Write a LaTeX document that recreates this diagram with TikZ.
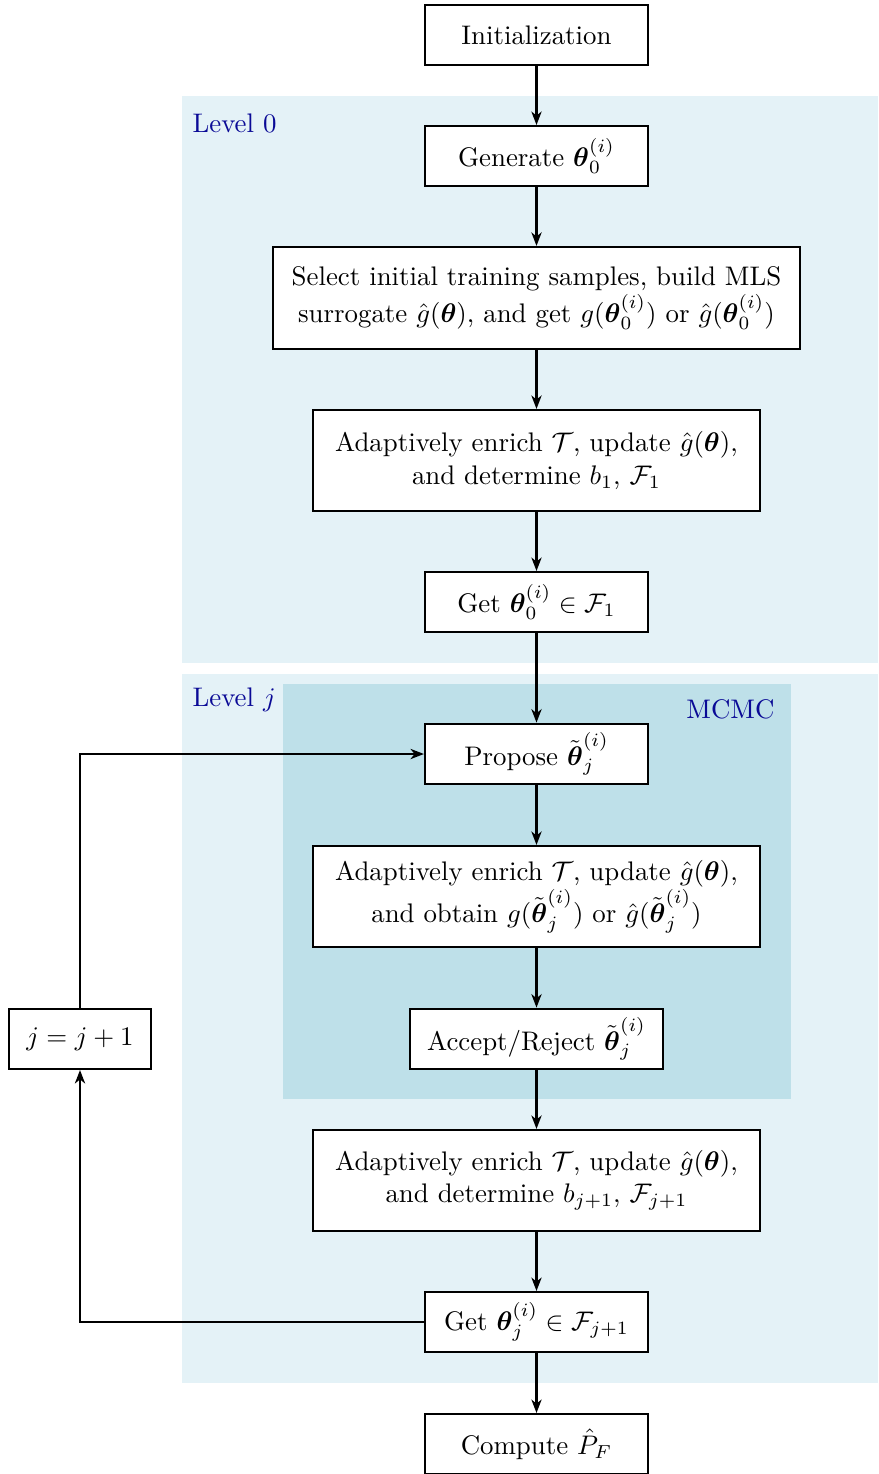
\documentclass[tikz,border=0pt]{standalone}
\usepackage{amsmath,amssymb}
\usetikzlibrary{arrows.meta}

\definecolor{levelbg}{RGB}{228,242,247}
\definecolor{mcmcbg}{RGB}{190,224,233}
\definecolor{levelfg}{RGB}{10,10,150}

\newcommand{\thetab}{\boldsymbol{\theta}}
\newcommand{\thetat}{\tilde{\boldsymbol{\theta}}}

\tikzset{
  box/.style={draw, rectangle, thick, fill=white, minimum width=83pt, minimum height=22.3pt, align=center},
  lbl/.style={text=levelfg, inner sep=0pt},
  flow/.style={-{Stealth[length=5pt, width=3.8pt, inset=1.5pt]}, thick},
}

\begin{document}
\begin{tikzpicture}[x=0.3723pt, y=-0.3723pt]
  \useasboundingbox (0,0) rectangle (878,1474);

  % level backgrounds
  \fill[levelbg] (182,96) rectangle (878,663);
  \fill[levelbg] (182,674) rectangle (878,1383);
  \fill[mcmcbg] (283,684) rectangle (791,1099);
  \node[lbl, anchor=west] (lvl0) at (192,123) {Level 0};
  \node[lbl, anchor=west] (lvlj) at (192,700) {Level $j$};
  \node[lbl, anchor=east] (mcmc) at (775,709) {MCMC};

  % level 0
  \node[box] (init) at (536.5,35) {Initialization};
  \node[box] (gen) at (536.5,156) {Generate $\thetab_0^{(i)}$};
  \node[box, minimum width=196.2pt, minimum height=38pt] (select) at (536.5,298)
    {Select initial training samples, build MLS\\surrogate $\hat g(\thetab)$, and get $g(\thetab_0^{(i)})$ or $\hat g(\thetab_0^{(i)})$};
  \node[box, minimum width=166.4pt, minimum height=37.6pt] (enrich0) at (536.5,460.5)
    {Adaptively enrich $\mathcal{T}$, update $\hat g(\thetab)$,\\and determine $b_1$, $\mathcal{F}_1$};
  \node[box] (get0) at (536.5,602) {Get $\thetab_0^{(i)} \in \mathcal{F}_1$};

  % level j
  \node[box] (prop) at (536.5,754) {Propose $\thetat_j^{(i)}$};
  \node[box, minimum width=166.4pt, minimum height=37.6pt] (enrichm) at (536.5,896.5)
    {Adaptively enrich $\mathcal{T}$, update $\hat g(\thetab)$,\\and obtain $g(\thetat_j^{(i)})$ or $\hat g(\thetat_j^{(i)})$};
  \node[box, minimum width=94.2pt] (accept) at (536.5,1039) {Accept/Reject $\thetat_j^{(i)}$};
  \node[box, minimum width=166.4pt, minimum height=37.6pt] (enrichj) at (536.5,1180.5)
    {Adaptively enrich $\mathcal{T}$, update $\hat g(\thetab)$,\\and determine $b_{j+1}$, $\mathcal{F}_{j+1}$};
  \node[box] (getj) at (536.5,1322) {Get $\thetab_j^{(i)} \in \mathcal{F}_{j+1}$};
  \node[box] (comp) at (536.5,1444) {Compute $\hat{P}_F$};
  \node[box, minimum width=52.9pt] (inc) at (80,1039) {$j=j+1$};

  \draw[flow] (init) -- (gen);
  \draw[flow] (gen) -- (select);
  \draw[flow] (select) -- (enrich0);
  \draw[flow] (enrich0) -- (get0);
  \draw[flow] (get0) -- (prop);
  \draw[flow] (prop) -- (enrichm);
  \draw[flow] (enrichm) -- (accept);
  \draw[flow] (accept) -- (enrichj);
  \draw[flow] (enrichj) -- (getj);
  \draw[flow] (getj) -- (comp);
  \draw[flow] (getj.west) -| (inc.south);
  \draw[flow] (inc.north) |- (prop.west);
\end{tikzpicture}
\end{document}
